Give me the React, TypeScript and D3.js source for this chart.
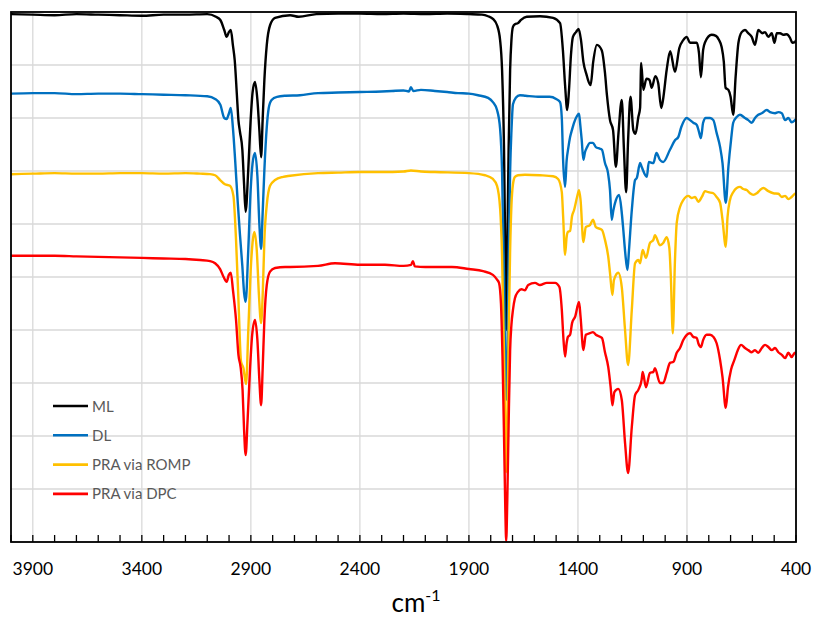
import React from 'react';
import * as d3 from 'd3';

const W = 817;
const H = 619;
const plot = { left: 11, right: 796, top: 12, bottom: 542 };

const majorTicks = [3900, 3400, 2900, 2400, 1900, 1400, 900, 400];
const minorTicks = d3.range(4000, 399, -100);
const yGrid = d3.range(0, 101, 10);

const seriesNames = ['ML', 'DL', 'PRA via ROMP', 'PRA via DPC'];
const seriesColors = ['#000000', '#0070C0', '#FFC000', '#FF0000'];

type P = [number, number];

const ML: P[] = [[4000,99.6],[3900,99.5],[3800,99.4],[3700,99.6],[3600,99.5],[3500,99.4],[3400,99.3],[3300,99.5],[3200,99.5],[3100,99.6],[3060,99.1],[3040,98.5],[3022,96.6],[3011,95.3],[3001,96.2],[2992,96.6],[2982,93.6],[2974,90.9],[2964,84.3],[2957,79.6],[2950,77.4],[2939,74.0],[2931,67.4],[2924,62.3],[2912,70.2],[2901,79.6],[2892,84.9],[2881,86.8],[2870,83.4],[2861,77.7],[2853,72.6],[2846,79.6],[2838,87.2],[2827,93.8],[2812,97.5],[2789,98.9],[2720,99.4],[2680,99.1],[2600,99.6],[2500,99.7],[2400,99.7],[2300,99.6],[2200,99.7],[2100,99.6],[2000,99.7],[1900,99.6],[1840,99.5],[1812,99.2],[1790,98.7],[1771,97.5],[1757,94.7],[1748,89.1],[1739,74.0],[1733,53.2],[1729,40.0],[1724,55.1],[1718,74.0],[1711,89.1],[1705,94.7],[1698,97.2],[1689,97.7],[1675,97.9],[1661,98.5],[1635,99.1],[1574,99.2],[1514,98.9],[1482,97.9],[1469,92.8],[1459,86.2],[1449,81.5],[1441,85.3],[1432,91.9],[1423,95.3],[1409,96.2],[1397,96.8],[1386,94.7],[1375,90.6],[1360,88.1],[1354,87.2],[1342,86.2],[1330,90.6],[1313,93.8],[1291,92.8],[1276,88.5],[1267,84.3],[1253,79.6],[1239,77.7],[1226,70.8],[1214,77.2],[1199,83.4],[1189,74.0],[1179,66.0],[1170,75.8],[1159,84.0],[1146,77.7],[1136,77.0],[1123,80.2],[1115,81.9],[1110,90.4],[1100,85.3],[1086,87.4],[1072,87.2],[1062,85.7],[1045,87.9],[1032,86.6],[1018,81.9],[1010,83.4],[993,89.1],[977,92.6],[955,88.7],[935,93.2],[917,94.7],[901,95.3],[886,94.2],[855,94.2],[845,92.3],[836,87.7],[826,92.8],[817,94.3],[787,95.7],[767,95.5],[753,94.7],[741,93.4],[731,90.6],[723,85.7],[710,85.3],[700,84.0],[688,80.6],[677,87.7],[664,94.2],[649,96.2],[634,96.6],[619,96.0],[603,95.3],[588,93.8],[573,96.6],[555,96.0],[542,96.2],[527,95.3],[511,96.0],[499,94.2],[488,96.0],[473,96.0],[458,95.7],[443,95.8],[427,95.1],[417,94.2],[405,94.3],[400,94.7]];

const DL: P[] = [[4000,84.6],[3900,84.7],[3800,84.7],[3700,84.5],[3600,84.6],[3500,84.6],[3400,84.5],[3300,84.4],[3200,84.3],[3100,84.1],[3064,83.6],[3040,82.5],[3022,80.0],[3011,79.8],[3001,80.8],[2992,81.9],[2982,78.0],[2972,72.0],[2960,64.0],[2950,58.0],[2939,52.0],[2931,47.0],[2924,45.3],[2912,55.0],[2901,66.4],[2892,71.5],[2881,73.4],[2870,69.0],[2861,60.0],[2853,55.3],[2846,62.0],[2838,70.2],[2827,78.3],[2818,81.9],[2805,83.4],[2780,84.0],[2740,84.2],[2675,84.3],[2592,84.7],[2500,84.8],[2400,84.9],[2300,85.0],[2253,85.1],[2200,85.2],[2175,85.0],[2166,85.8],[2155,85.1],[2120,85.3],[2056,85.1],[2000,84.9],[1950,84.7],[1900,84.6],[1858,84.3],[1812,83.8],[1790,83.0],[1771,81.5],[1757,78.0],[1748,70.0],[1739,50.0],[1733,32.0],[1729,26.8],[1724,34.0],[1718,52.0],[1711,70.0],[1705,77.5],[1698,82.6],[1685,83.8],[1666,84.3],[1640,84.2],[1574,84.0],[1530,84.0],[1500,83.6],[1482,83.0],[1474,80.0],[1468,72.0],[1459,67.0],[1452,71.9],[1444,74.4],[1436,76.4],[1427,77.8],[1418,79.1],[1404,80.4],[1395,80.8],[1390,79.0],[1383,76.0],[1375,72.1],[1368,73.5],[1358,74.5],[1345,75.3],[1331,75.3],[1318,74.5],[1299,74.2],[1290,74.0],[1276,71.5],[1262,69.6],[1253,66.4],[1245,60.8],[1238,62.5],[1226,64.5],[1211,65.5],[1200,62.5],[1193,59.4],[1183,54.5],[1173,51.3],[1166,55.0],[1153,62.6],[1138,68.3],[1130,68.7],[1115,71.5],[1108,70.8],[1084,68.9],[1075,71.7],[1054,71.5],[1040,73.4],[1024,72.1],[1009,71.7],[978,74.0],[955,75.8],[940,76.4],[926,78.3],[901,80.0],[886,79.6],[871,79.1],[855,78.7],[845,77.4],[836,76.2],[826,79.1],[814,80.0],[794,80.0],[779,79.6],[764,77.2],[748,74.5],[737,71.5],[722,64.0],[710,70.8],[698,75.8],[688,79.1],[672,80.2],[657,80.6],[634,80.0],[619,79.6],[603,79.1],[588,80.0],[573,80.6],[557,80.9],[534,81.5],[519,81.1],[496,80.9],[481,81.1],[465,80.9],[450,79.6],[435,80.0],[420,79.2],[405,79.6],[400,79.8]];

const ROMP: P[] = [[4000,69.4],[3900,69.5],[3800,69.6],[3700,69.5],[3600,69.5],[3500,69.6],[3400,69.6],[3300,69.5],[3200,69.6],[3133,69.5],[3087,69.4],[3064,69.2],[3041,68.3],[3019,67.5],[2996,67.2],[2980,65.3],[2968,57.0],[2957,45.7],[2945,34.0],[2934,32.8],[2922,29.8],[2912,39.6],[2901,51.1],[2892,56.6],[2884,58.5],[2873,55.1],[2863,46.6],[2853,41.3],[2845,47.5],[2838,57.0],[2827,63.6],[2812,67.2],[2789,68.3],[2752,68.9],[2720,69.1],[2592,69.6],[2500,69.7],[2400,69.8],[2300,69.8],[2200,69.9],[2166,70.1],[2120,69.9],[2056,69.8],[1900,69.6],[1826,69.2],[1790,68.5],[1771,67.2],[1757,63.0],[1748,54.0],[1739,35.0],[1733,20.0],[1729,13.2],[1724,22.0],[1718,38.0],[1711,55.0],[1705,63.5],[1698,67.5],[1689,68.9],[1675,69.2],[1643,69.3],[1574,69.2],[1514,69.0],[1491,68.5],[1474,66.0],[1468,61.5],[1459,54.2],[1452,57.5],[1446,58.5],[1436,58.7],[1427,61.5],[1418,62.6],[1404,65.1],[1395,66.4],[1388,64.5],[1375,56.6],[1364,59.4],[1345,59.8],[1331,60.8],[1318,59.4],[1290,58.9],[1276,57.0],[1261,53.8],[1253,50.8],[1242,46.6],[1235,49.4],[1215,50.8],[1199,48.1],[1184,40.0],[1170,33.4],[1153,43.8],[1138,52.6],[1123,53.2],[1115,52.6],[1103,55.1],[1088,53.6],[1070,56.4],[1054,57.0],[1047,57.9],[1024,56.0],[1009,56.4],[993,57.5],[981,55.5],[974,50.0],[965,39.4],[955,53.2],[947,60.2],[932,63.2],[917,64.5],[894,65.3],[879,64.9],[863,65.1],[848,64.2],[832,65.1],[817,66.2],[802,66.0],[779,65.8],[764,65.1],[748,64.0],[737,60.8],[722,55.7],[714,61.3],[703,64.5],[688,66.0],[672,66.8],[657,67.0],[642,66.6],[626,66.4],[611,65.8],[596,65.5],[580,65.8],[565,66.4],[550,66.8],[527,66.2],[504,65.8],[481,65.7],[465,65.1],[450,65.3],[435,64.7],[420,65.1],[405,65.7],[400,65.8]];

const DPC: P[] = [[4000,54.0],[3900,54.0],[3800,54.0],[3700,53.9],[3600,53.8],[3500,53.7],[3400,53.6],[3300,53.5],[3200,53.4],[3133,53.2],[3087,53.0],[3064,52.6],[3041,51.5],[3025,50.0],[3011,49.1],[3001,50.4],[2992,50.8],[2982,47.5],[2968,41.9],[2957,35.3],[2947,33.0],[2938,28.7],[2931,21.1],[2924,16.4],[2915,23.0],[2904,32.5],[2894,39.1],[2881,41.9],[2870,38.1],[2861,30.6],[2853,25.8],[2846,32.5],[2838,41.9],[2827,48.5],[2812,51.0],[2789,51.7],[2743,51.9],[2720,51.9],[2592,52.1],[2514,52.6],[2400,52.3],[2285,52.3],[2200,52.1],[2165,52.3],[2157,53.0],[2148,52.0],[2100,51.9],[2056,51.9],[1978,51.9],[1900,51.5],[1835,51.1],[1790,50.4],[1771,49.5],[1762,48.9],[1753,45.0],[1746,35.0],[1739,20.0],[1733,6.0],[1729,0.2],[1724,8.0],[1718,22.0],[1711,36.2],[1705,41.0],[1698,43.8],[1689,46.0],[1675,47.2],[1659,47.7],[1643,47.5],[1628,48.5],[1597,48.9],[1574,48.5],[1543,48.9],[1505,48.9],[1485,48.1],[1474,43.8],[1466,38.0],[1459,35.0],[1452,37.5],[1446,38.7],[1436,39.1],[1427,41.3],[1413,42.5],[1395,45.3],[1388,42.5],[1375,36.2],[1364,39.1],[1345,39.4],[1331,39.6],[1318,39.1],[1290,38.5],[1276,35.8],[1261,33.0],[1250,29.2],[1242,25.8],[1233,28.3],[1215,28.9],[1199,26.8],[1184,18.7],[1170,13.0],[1153,21.7],[1138,27.7],[1123,28.7],[1108,30.6],[1103,32.1],[1088,29.2],[1070,31.9],[1054,32.1],[1047,32.8],[1024,30.0],[1009,30.0],[993,31.9],[978,33.8],[962,34.0],[947,35.7],[932,36.6],[917,38.1],[901,39.1],[886,39.4],[871,38.7],[855,38.5],[848,37.5],[836,36.8],[826,38.1],[810,39.1],[794,39.1],[779,38.7],[764,37.5],[748,34.3],[737,31.1],[722,25.3],[712,29.2],[698,32.5],[683,34.3],[667,36.2],[652,37.2],[634,36.6],[619,36.2],[603,35.8],[588,36.2],[573,35.7],[557,36.6],[542,37.2],[527,36.8],[511,36.2],[496,36.6],[481,35.8],[465,35.3],[450,34.7],[435,35.7],[420,34.9],[405,35.7],[400,35.5]];

const seriesData = [ML, DL, ROMP, DPC];

const FONT = 'Lato, "Open Sans", "DejaVu Sans", sans-serif';

export default function App() {
  const x = d3.scaleLinear().domain([4000, 400]).range([plot.left, plot.right]);
  const y = d3.scaleLinear().domain([0, 100]).range([plot.bottom, plot.top]);
  const line = d3
    .line<P>()
    .x((d) => x(d[0]))
    .y((d) => y(d[1]))
    .curve(d3.curveMonotoneX);

  const legendX = 53;
  const legendY0 = 406;
  const legendDy = 29.3;

  return (
    <svg
      width={W}
      height={H}
      style={{ position: 'absolute', left: 0, top: 0, background: '#fff' }}
    >
      <defs>
        <clipPath id="plotClip">
          <rect
            x={plot.left}
            y={plot.top - 1}
            width={plot.right - plot.left}
            height={plot.bottom - plot.top + 1}
          />
        </clipPath>
      </defs>
      <rect x={0} y={0} width={W} height={H} fill="#fff" />
      {/* grid */}
      {yGrid.map((v) => (
        <line
          key={'hy' + v}
          x1={plot.left}
          x2={plot.right}
          y1={y(v)}
          y2={y(v)}
          stroke="#d9d9d9"
          strokeWidth={1.3}
        />
      ))}
      {majorTicks.map((t) => (
        <line
          key={'vx' + t}
          x1={x(t)}
          x2={x(t)}
          y1={plot.top}
          y2={plot.bottom}
          stroke="#d9d9d9"
          strokeWidth={1.3}
        />
      ))}
      {/* series */}
      <g clipPath="url(#plotClip)">
        {seriesData.map((d, i) => (
          <path
            key={seriesNames[i]}
            d={line(d) || ''}
            fill="none"
            stroke={seriesColors[i]}
            strokeWidth={2.4}
            strokeLinejoin="round"
          />
        ))}
      </g>
      {/* frame */}
      <rect
        x={plot.left}
        y={plot.top}
        width={plot.right - plot.left}
        height={plot.bottom - plot.top}
        fill="none"
        stroke="#000"
        strokeWidth={1.8}
      />
      {/* ticks */}
      {minorTicks.map((t) => (
        <line
          key={'tk' + t}
          x1={x(t)}
          x2={x(t)}
          y1={plot.bottom}
          y2={plot.bottom - 7}
          stroke="#000"
          strokeWidth={1.3}
        />
      ))}
      {majorTicks.map((t) => (
        <text
          key={'tl' + t}
          x={x(t)}
          y={575}
          textAnchor="middle"
          fontFamily={FONT}
          fontSize={17.5}
          fill="#000"
        >
          {t}
        </text>
      ))}
      <text x={416} y={612} textAnchor="middle" fontFamily={FONT} fontSize={26} fill="#000">
        <tspan>cm</tspan>
        <tspan dy={-11} fontSize={16}>-1</tspan>
      </text>
      {/* legend */}
      {seriesNames.map((n, i) => (
        <g key={'lg' + n}>
          <line
            x1={legendX}
            x2={legendX + 35}
            y1={legendY0 + i * legendDy}
            y2={legendY0 + i * legendDy}
            stroke={seriesColors[i]}
            strokeWidth={2.6}
          />
          <text
            x={legendX + 39}
            y={legendY0 + i * legendDy + 5.5}
            fontFamily={FONT}
            fontSize={15}
            fill="#595959"
          >
            {n}
          </text>
        </g>
      ))}
    </svg>
  );
}
